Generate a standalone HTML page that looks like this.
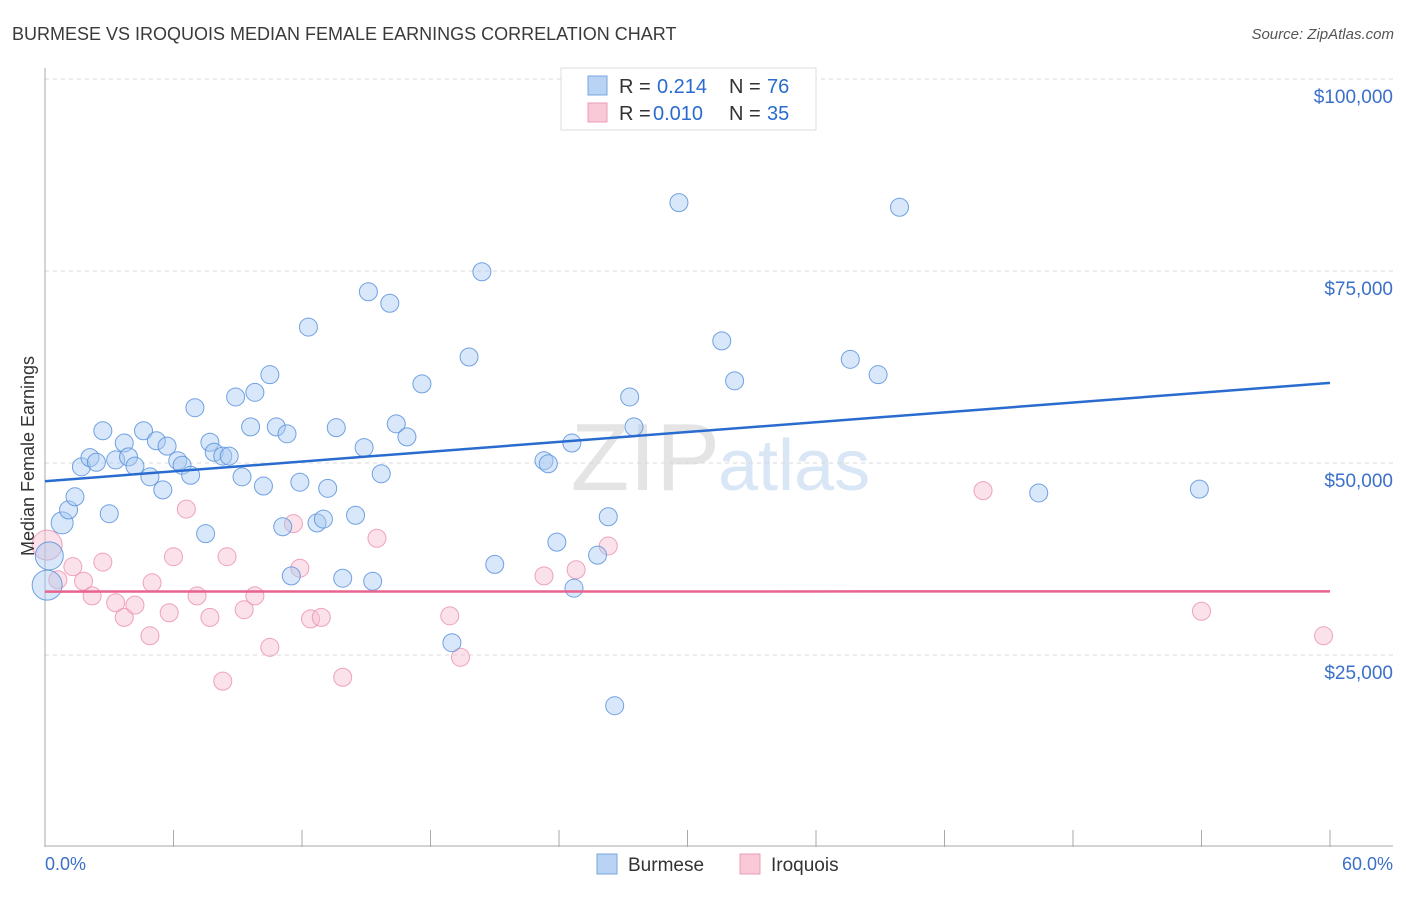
<!DOCTYPE html>
<html><head><meta charset="utf-8"><style>
body{margin:0;background:#fff;font-family:"Liberation Sans",sans-serif;}
svg text{font-family:"Liberation Sans",sans-serif;}
</style></head><body>
<svg id="c" width="1406" height="892" xmlns="http://www.w3.org/2000/svg">
<text x="12" y="40" font-size="18" fill="#3a3a3a">BURMESE VS IROQUOIS MEDIAN FEMALE EARNINGS CORRELATION CHART</text>
<text x="1394" y="39" font-size="15" fill="#555" font-style="italic" text-anchor="end">Source: ZipAtlas.com</text>
<text x="720" y="490" font-size="96" fill="#e4e4e4" text-anchor="end" font-family="Liberation Serif">ZIP</text>
<text x="718" y="490" font-size="72" fill="#d8e6f6">atlas</text>
<g id="grid"></g>
<g id="axes"></g>
<g id="pts"></g>
<g id="trend"></g>
<text transform="translate(34,456) rotate(-90)" font-size="18" fill="#333" text-anchor="middle">Median Female Earnings</text>
<text x="45" y="870" font-size="18" fill="#3a70c8">0.0%</text>
<text x="1393" y="870" font-size="18" fill="#3a70c8" text-anchor="end">60.0%</text>
<g>
<rect x="561" y="68" width="255" height="62" fill="#fff" stroke="#ddd"/>
<rect x="588" y="76" width="19" height="19" fill="#b8d3f4" stroke="#7aa7e0"/>
<rect x="588" y="103" width="19" height="19" fill="#f9c9d7" stroke="#ee9cb5"/>
<text x="619" y="93" font-size="20" fill="#333">R =</text>
<text x="657" y="93" font-size="20" fill="#2a6bd0">0.214</text>
<text x="729" y="93" font-size="20" fill="#333">N =</text>
<text x="767" y="93" font-size="20" fill="#2a6bd0">76</text>
<text x="619" y="120" font-size="20" fill="#333">R =</text>
<text x="653" y="120" font-size="20" fill="#2a6bd0">0.010</text>
<text x="729" y="120" font-size="20" fill="#333">N =</text>
<text x="767" y="120" font-size="20" fill="#2a6bd0">35</text>
</g>
<g>
<rect x="597" y="854" width="20" height="20" fill="#b8d3f4" stroke="#7aa7e0"/>
<text x="628" y="871" font-size="19" fill="#333">Burmese</text>
<rect x="740" y="854" width="20" height="20" fill="#f9c9d7" stroke="#ee9cb5"/>
<text x="771" y="871" font-size="19" fill="#333">Iroquois</text>
</g>
</svg>
<script>
const yTicks=[25000,50000,75000,100000];
const yTickLabels=["$25,000","$50,000","$75,000","$100,000"];
const xTicks=[0,6,12,18,24,30,36,42,48,54,60];
const burmeseX=[0.1,0.2,0.8,1.1,1.4,1.7,2.1,2.4,2.7,3.0,3.3,3.7,3.9,4.2,4.6,4.9,5.2,5.5,5.7,6.2,6.4,6.8,7.0,7.5,7.7,7.9,8.3,8.6,8.9,9.2,9.6,9.8,10.2,10.5,10.8,11.3,11.5,11.1,11.9,12.3,12.7,13.0,13.2,13.6,13.9,14.5,14.9,15.1,15.3,15.7,16.1,16.4,16.9,17.6,19.0,19.8,20.4,21.0,23.3,23.5,23.9,24.6,24.7,25.8,26.3,26.6,27.3,27.5,29.6,31.6,32.2,37.6,38.9,39.9,46.4,53.9];
const burmeseY=[34.1,37.9,42.2,43.9,45.6,49.5,50.7,50.1,54.2,43.4,50.4,52.6,50.8,49.6,54.2,48.2,52.9,46.5,52.2,50.3,49.7,48.4,57.2,40.8,52.7,51.4,50.9,50.9,58.6,48.2,54.7,59.2,47.0,61.5,54.7,53.8,35.3,41.7,47.5,67.7,42.2,42.7,46.7,54.6,35.0,43.2,52.0,72.3,34.6,48.6,70.8,55.1,53.4,60.3,26.6,63.8,74.9,36.8,50.3,49.9,39.7,52.6,33.7,38.0,43.0,18.4,58.6,54.7,83.9,65.9,60.7,63.5,61.5,83.3,46.1,46.6];
const iroquoisX=[0.1,0.6,1.3,1.8,2.2,2.7,3.3,3.7,4.2,4.9,5.0,5.8,6.0,6.6,7.1,7.7,8.3,8.5,9.3,9.8,10.5,11.6,11.9,12.4,12.9,13.9,15.5,18.9,19.4,23.3,24.8,26.3,43.8,54.0,59.7];
const iroquoisY=[39.3,34.8,36.5,34.6,32.7,37.1,31.8,29.9,31.5,27.5,34.4,30.5,37.8,44.0,32.7,29.9,21.6,37.8,30.9,32.7,26.0,42.1,36.3,29.7,29.9,22.1,40.2,30.1,24.7,35.3,36.1,39.2,46.4,30.7,27.5];
const NS="http://www.w3.org/2000/svg";
const X0=45,X1=1330,YB=847,PPK=192/25000;
function sx(v){return X0+(X1-X0)*v/60;}
function sy(v){return YB-v*PPK;}
function mk(t,a,p){const e=document.createElementNS(NS,t);for(const k in a)e.setAttribute(k,a[k]);p.appendChild(e);return e;}
const grid=document.getElementById('grid'),axes=document.getElementById('axes'),pts=document.getElementById('pts'),tr=document.getElementById('trend');
yTicks.forEach((t,i)=>{
 const l=mk('line',{x1:X0,x2:1393,y1:sy(t),y2:sy(t),stroke:'#d8d8d8','stroke-dasharray':'4,4'},grid);
 
 
 const tx=mk('text',{x:1393,y:sy(t)+24,'font-size':19,fill:'#3a70c8','text-anchor':'end'},grid);
 tx.textContent=yTickLabels[i];
 
 
});
const ya=mk('line',{x1:X0,x2:X0,y1:68,y2:YB,stroke:'#aaa'},axes);


const xa=mk('line',{x1:X0,x2:1393,y1:YB-1,y2:YB-1,stroke:'#aaa'},axes);


xTicks.forEach(t=>{
 const l=mk('line',{x1:sx(t),x2:sx(t),y1:830,y2:YB,stroke:'#aaa'},axes);
 
 
});
function series(xs,ys,fill,stroke,name){
 xs.forEach((x,i)=>{
  const r=(i===0?15:(i===1&&name==='burmese')?14:(i===2&&name==='burmese')?11:9);
  const c=mk('circle',{cx:sx(x),cy:sy(ys[i]*1000),r:r,fill:fill,'fill-opacity':0.45,stroke:stroke,'stroke-width':1,'stroke-opacity':0.85},pts);
  
  
 });
}
series(iroquoisX,iroquoisY,'#f6bfd0','#ec93b0','iroquois');
series(burmeseX,burmeseY,'#a9c9f1','#5b93dc','burmese');
function fit(xs,ys){const n=xs.length;let mx=0,my=0;xs.forEach((x,i)=>{mx+=x;my+=ys[i];});mx/=n;my/=n;let a=0,b=0;xs.forEach((x,i)=>{a+=(x-mx)*(ys[i]-my);b+=(x-mx)*(x-mx);});const s=a/b;return [my-s*mx,s];}
[[burmeseX,burmeseY,'#2a6bd0','burmese-trendline'],[iroquoisX,iroquoisY,'#e8638e','iroquois-trendline']].forEach(s=>{
 const f=fit(s[0],s[1]);
 const l=mk('line',{x1:sx(0),x2:sx(60),y1:sy(f[0]*1000),y2:sy((f[0]+f[1]*60)*1000),stroke:s[2],'stroke-width':2.5},tr);
 
 
});
</script>
</body></html>
